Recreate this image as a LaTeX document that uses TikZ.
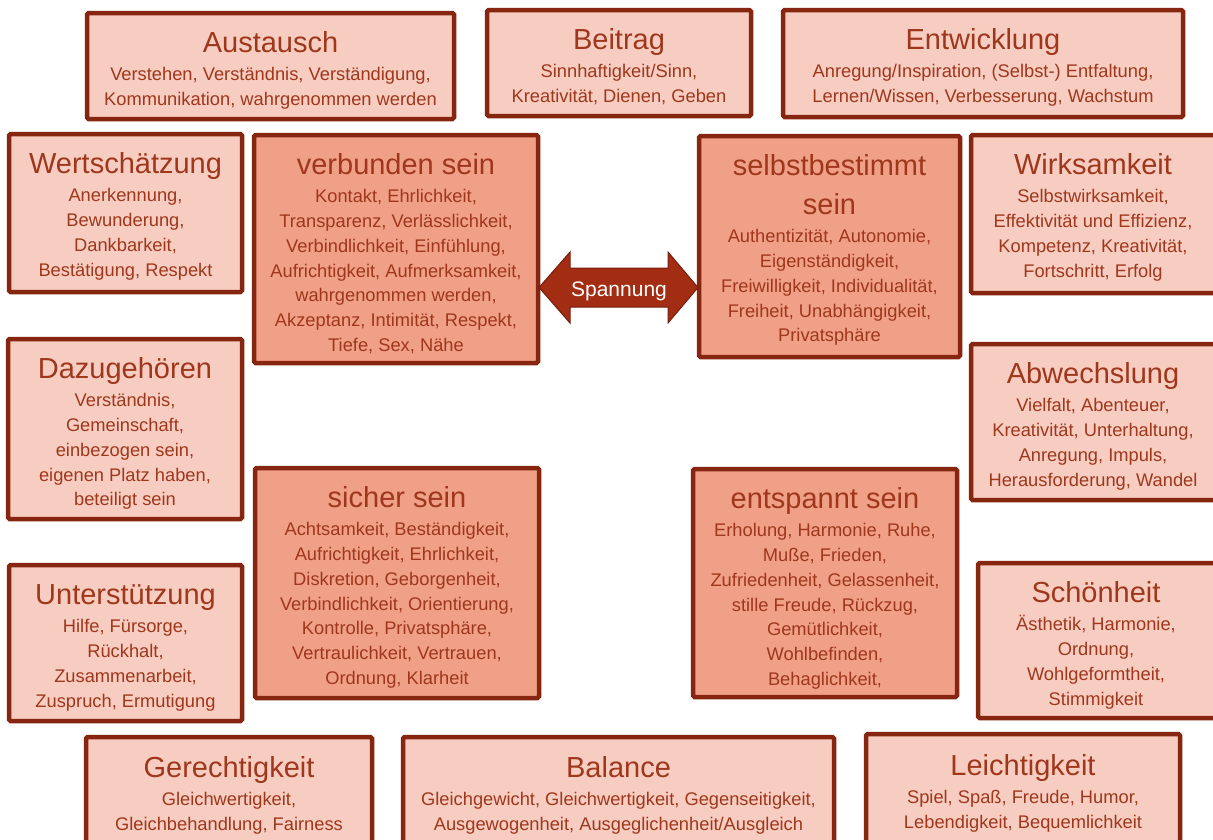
\documentclass[tikz,border=0pt]{standalone}
\usepackage{fontspec}
\setmainfont{Liberation Sans}
\usetikzlibrary{fit}

\definecolor{rimred}{RGB}{134,37,16}
\definecolor{inkred}{RGB}{158,55,28}
\definecolor{palefill}{RGB}{248,205,193}
\definecolor{deepfill}{RGB}{241,160,136}
\definecolor{arrowred}{RGB}{163,45,18}
\definecolor{arrowrim}{RGB}{118,30,12}

\newcommand\hdfont{\fontsize{29}{34}\selectfont}
\newcommand\txfont{\fontsize{18.3}{24.7}\selectfont}
\newcommand\hd[1]{{\hdfont\rule{0pt}{22pt}#1}}

\tikzset{
  panel/.style={draw=rimred, line width=4.5pt, rounded corners=1.5pt, inner sep=0pt},
  pale/.style={panel, fill=palefill},
  deep/.style={panel, fill=deepfill},
  boxtext/.style={anchor=north, inner sep=0pt, align=center, text=inkred, font=\txfont},
}

\begin{document}
\begin{tikzpicture}[x=1pt,y=-1pt]
\useasboundingbox (0,0) rectangle (1213,839);
\fill[white] (0,0) rectangle (1213,839);

% top row
\node[pale, fit={(87,13) (454,119)}] (austausch) {};
\node[boxtext] (austausch-t) at ([yshift=-20pt]austausch.north)
  {\hd{Austausch}\\[3.3pt] Verstehen, Verständnis, Verständigung,\\ Kommunikation, wahrgenommen werden};

\node[pale, fit={(487,10) (751,116)}] (beitrag) {};
\node[boxtext] (beitrag-t) at ([yshift=-20pt]beitrag.north)
  {\hd{Beitrag}\\[3.3pt] Sinnhaftigkeit/Sinn,\\ Kreativität, Dienen, Geben};

\node[pale, fit={(783,10) (1183,117)}] (entwicklung) {};
\node[boxtext] (entwicklung-t) at ([yshift=-20pt]entwicklung.north)
  {\hd{Entwicklung}\\[3.3pt] Anregung/Inspiration, (Selbst-) Entfaltung,\\ Lernen/Wissen, Verbesserung, Wachstum};

% second row
\node[pale, fit={(9,134) (242,292)}] (wert) {};
\node[boxtext] (wert-t) at ([yshift=-20pt]wert.north)
  {\hd{Wertschätzung}\\[3.3pt] Anerkennung,\\ Bewunderung,\\ Dankbarkeit,\\ Bestätigung, Respekt};

\node[deep, fit={(254,135) (538,363)}] (verbunden) {};
\node[boxtext] (verbunden-t) at ([yshift=-20pt]verbunden.north)
  {\hd{verbunden sein}\\[3.3pt] Kontakt, Ehrlichkeit,\\ Transparenz, Verlässlichkeit,\\ Verbindlichkeit, Einfühlung,\\
   Aufrichtigkeit, Aufmerksamkeit,\\ wahrgenommen werden,\\ Akzeptanz, Intimität, Respekt,\\ Tiefe, Sex, Nähe};

\node[deep, fit={(699,136) (960,357)}] (selbst) {};
\node[boxtext] (selbst-t) at ([yshift=-20pt]selbst.north)
  {\hd{selbstbestimmt}\\[14.3pt] \hd{sein}\\[3.3pt] Authentizität, Autonomie,\\ Eigenständigkeit,\\
   Freiwilligkeit, Individualität,\\ Freiheit, Unabhängigkeit,\\ Privatsphäre};

\node[pale, fit={(971,135) (1222,293)}] (wirk) {};
\node[boxtext] (wirk-t) at ([yshift=-20pt]wirk.north -| 1093,0)
  {\hd{Wirksamkeit}\\[3.3pt] Selbstwirksamkeit,\\ Effektivität und Effizienz,\\ Kompetenz, Kreativität,\\ Fortschritt, Erfolg};

% tension arrow between the two upper core needs
\draw[fill=arrowred, draw=arrowrim, line width=1pt, line join=miter]
  (539,287.5) -- (570,252) -- (570,268) -- (668,268) -- (668,252) -- (698,287.5)
  -- (668,323) -- (668,307) -- (570,307) -- (570,323) -- cycle;
\node[anchor=base, inner sep=0pt, text=white, font=\fontsize{21}{24}\selectfont] (spannung) at (619,296) {Spannung};

% middle rows
\node[pale, fit={(8,339) (242,519)}] (dazu) {};
\node[boxtext] (dazu-t) at ([yshift=-20pt]dazu.north)
  {\hd{Dazugehören}\\[3.3pt] Verständnis,\\ Gemeinschaft,\\ einbezogen sein,\\ eigenen Platz haben,\\ beteiligt sein};

\node[pale, fit={(971,344) (1222,500)}] (abw) {};
\node[boxtext] (abw-t) at ([yshift=-20pt]abw.north -| 1093,0)
  {\hd{Abwechslung}\\[3.3pt] Vielfalt, Abenteuer,\\ Kreativität, Unterhaltung,\\ Anregung, Impuls,\\ Herausforderung, Wandel};

\node[deep, fit={(255,468) (539,698)}] (sicher) {};
\node[boxtext] (sicher-t) at ([yshift=-20pt]sicher.north)
  {\hd{sicher sein}\\[3.3pt] Achtsamkeit, Beständigkeit,\\ Aufrichtigkeit, Ehrlichkeit,\\ Diskretion, Geborgenheit,\\
   Verbindlichkeit, Orientierung,\\ Kontrolle, Privatsphäre,\\ Vertraulichkeit, Vertrauen,\\ Ordnung, Klarheit};

\node[deep, fit={(693,469) (957,697)}] (entspannt) {};
\node[boxtext] (entspannt-t) at ([yshift=-20pt]entspannt.north)
  {\hd{entspannt sein}\\[3.3pt] Erholung, Harmonie, Ruhe,\\ Muße, Frieden,\\ Zufriedenheit, Gelassenheit,\\
   stille Freude, Rückzug,\\ Gemütlichkeit,\\ Wohlbefinden,\\ Behaglichkeit,};

\node[pale, fit={(9,565) (242,721)}] (unter) {};
\node[boxtext] (unter-t) at ([yshift=-20pt]unter.north)
  {\hd{Unterstützung}\\[3.3pt] Hilfe, Fürsorge,\\ Rückhalt,\\ Zusammenarbeit,\\ Zuspruch, Ermutigung};

\node[pale, fit={(978,563) (1222,718)}] (schoen) {};
\node[boxtext] (schoen-t) at ([yshift=-20pt]schoen.north -| 1096,0)
  {\hd{Schönheit}\\[3.3pt] Ästhetik, Harmonie,\\ Ordnung,\\ Wohlgeformtheit,\\ Stimmigkeit};

% bottom row
\node[pale, fit={(86,737) (372,852)}] (gerecht) {};
\node[boxtext] (gerecht-t) at ([yshift=-20.5pt]gerecht.north)
  {\hd{Gerechtigkeit}\\[3.3pt] Gleichwertigkeit,\\ Gleichbehandlung, Fairness};

\node[pale, fit={(403,737) (834,852)}] (balance) {};
\node[boxtext] (balance-t) at ([yshift=-20.5pt]balance.north)
  {\hd{Balance}\\[3.3pt] Gleichgewicht, Gleichwertigkeit, Gegenseitigkeit,\\ Ausgewogenheit, Ausgeglichenheit/Ausgleich};

\node[pale, fit={(866,734) (1180,852)}] (leicht) {};
\node[boxtext] (leicht-t) at ([yshift=-21.5pt]leicht.north)
  {\hd{Leichtigkeit}\\[3.3pt] Spiel, Spaß, Freude, Humor,\\ Lebendigkeit, Bequemlichkeit};
\end{tikzpicture}
\end{document}
